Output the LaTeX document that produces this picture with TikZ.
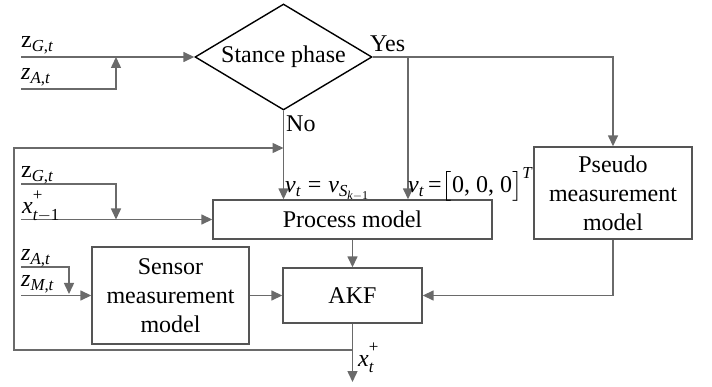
\documentclass[tikz,border=0pt]{standalone}
\usepackage{amsmath}
\usepackage{fontspec}
\setmainfont{Liberation Serif}
\usetikzlibrary{shapes.geometric,arrows.meta}
\definecolor{linegray}{HTML}{6A6A6A}
\definecolor{boxgray}{HTML}{555555}
\newcommand{\ti}[1]{\textit{#1}}
\newcommand{\tu}[1]{\textup{#1}}
\newcommand{\hiplus}{\raisebox{4pt}{\fontsize{17}{17}\selectfont +}}
\begin{document}
\begin{tikzpicture}[x=1pt,y=-1pt,
  conn/.style={draw=linegray, line width=1.5pt, -{Triangle[length=11pt,width=10pt]}},
  blk/.style={draw=boxgray, line width=1.4pt, rectangle, inner sep=0pt, align=center,
    font=\fontsize{24}{29}\selectfont},
  dia/.style={draw=black, line width=1.4pt, diamond, aspect=1.67, inner sep=0pt,
    minimum width=177pt, minimum height=106pt, font=\fontsize{24}{29}\selectfont},
  lbl/.style={anchor=base west, inner sep=0pt, font=\fontsize{24}{29}\selectfont}]
\useasboundingbox (0,0) rectangle (712,387);

% nodes
\node[dia] (st) at (283.5,57) {Stance phase};
\node[blk, minimum width=279pt, minimum height=39pt] (pm) at (352.5,219.5) {Process model};
\node[blk, minimum width=157pt, minimum height=97pt] (smm) at (170.5,295.5) {Sensor\\measurement\\model};
\node[blk, minimum width=139pt, minimum height=55pt] (akf) at (352.5,295.5) {AKF};
\node[blk, minimum width=158pt, minimum height=92pt] (psm) at (613,193) {Pseudo\\measurement\\model};

% coordinates
\coordinate (i1) at (21,57);
\coordinate (i2) at (21,89);
\coordinate (i2e) at (116,57);
\coordinate (yb) at (408,57);
\coordinate (fbj) at (352.5,350);
\coordinate (fbL) at (14,350);
\coordinate (fbT) at (14,148);
\coordinate (fbE) at (283.5,148);
\coordinate (out) at (352.5,382);
\coordinate (p1) at (21,184);
\coordinate (p1e) at (116,219.5);
\coordinate (p2) at (21,219.5);
\coordinate (s1) at (21,267);
\coordinate (s1e) at (69,294);
\coordinate (s2) at (21,295.5);

% connectors
\draw[conn] (i1) -- (st.west);
\draw[conn] (i2) -| (i2e);
\draw[conn] (st.east) -| (psm.north);
\draw[conn] (yb) -- (yb |- pm.north);
\draw[conn] (st.south) -- (st.south |- pm.north);
\draw[conn] (fbj) -- (fbL) -- (fbT) -- (fbE);
\draw[conn] (akf.south) -- (out);
\draw[conn] (pm.south) -- (akf.north);
\draw[conn] (smm.east) -- (akf.west);
\draw[conn] (psm.south) |- (akf.east);
\draw[conn] (p1) -| (p1e);
\draw[conn] (p2) -- (pm.west);
\draw[conn] (s1) -| (s1e);
\draw[conn] (s2) -- (smm.west);

% labels
\node[lbl] (lzg1) at (21,48) {$\tu{z}_{\ti{G}\tu{,}\ti{t}}$};
\node[lbl] (lza1) at (21,80) {$\ti{z}_{\ti{A}\tu{,}\ti{t}}$};
\node[lbl] (lyes) at (370,52) {Yes};
\node[lbl] (lno) at (286,132) {No};
\node[lbl] (lv1) at (285,193) {$\ti{v}_{\ti{t}}\;\tu{=}\;\ti{v}_{\ti{S}_{\ti{k}-\tu{1}}}$};
\node[lbl] (lv2) at (408,193) {$\ti{v}_{\ti{t}}\,\tu{=}\bigl[\tu{0, 0, 0}\bigr]^{\ti{T}}$};
\node[lbl] (lzg2) at (21,178) {$\tu{z}_{\ti{G}\tu{,}\ti{t}}$};
\node[lbl] (lx1) at (22,214) {$\ti{x}_{\ti{t}-\tu{1}}^{\hiplus}$};
\node[lbl] (lza2) at (21,261) {$\ti{z}_{\ti{A}\tu{,}\ti{t}}$};
\node[lbl] (lzm) at (21,287) {$\ti{z}_{\ti{M}\tu{,}\ti{t}}$};
\node[lbl] (lxt) at (358,366) {$\ti{x}_{\ti{t}}^{\hiplus}$};
\end{tikzpicture}
\end{document}
